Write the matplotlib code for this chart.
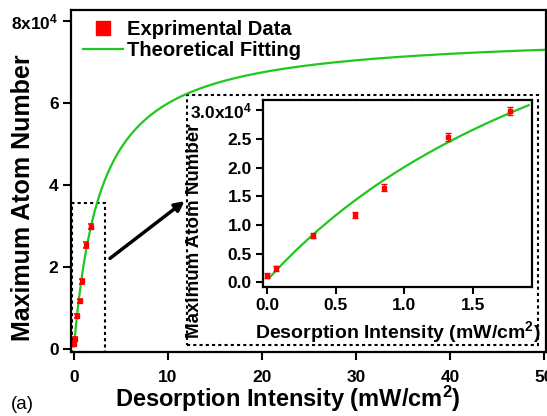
import matplotlib
matplotlib.use('Agg')
import matplotlib.pyplot as plt
import numpy as np
from matplotlib.lines import Line2D
from matplotlib.patches import Rectangle

plt.rcParams['font.family'] = ['Liberation Sans', 'DejaVu Sans']
plt.rcParams['font.weight'] = 'bold'
plt.rcParams['axes.labelweight'] = 'bold'
plt.rcParams['mathtext.fontset'] = 'custom'
plt.rcParams['mathtext.rm'] = 'Liberation Sans:bold'
plt.rcParams['mathtext.bf'] = 'Liberation Sans:bold'
plt.rcParams['mathtext.default'] = 'rm'

# measured points
intensity = [0.0, 0.061, 0.331, 0.640, 0.852, 1.322, 1.773]
atoms = [1160, 2440, 8140, 11690, 16510, 25350, 29880]
atoms_err = [400, 400, 450, 500, 550, 650, 650]

# theoretical fitting parameters (N = N_sat*I/(I+I_s) + N_0)
n_sat = 76800
i_sat = 2.9
n_0 = 400

main_xticks = [0, 10, 20, 30, 40, 50]
main_yticks = [0, 20000, 40000, 60000, 80000]
main_yticklabels = ['0', '2', '4', '6', '8x10$^4$']
inset_xticks = [0.0, 0.5, 1.0, 1.5]
inset_yticks = [0, 5000, 10000, 15000, 20000, 25000, 30000]
inset_yticklabels = ['0.0', '0.5', '1.0', '1.5', '2.0', '2.5', '3.0x10$^4$']

def fit(i):
    return n_sat * i / (i + i_sat) + n_0

red = '#ff0000'
green = '#1ec81e'

fig = plt.figure(figsize=(5.47, 4.16), dpi=100)
ax = fig.add_axes([0.130, 0.154, 0.868, 0.822])

I = np.linspace(0.01, 50, 600)
ax.plot(I, fit(I), color=green, lw=1.6)
ax.errorbar(intensity, atoms, yerr=atoms_err, fmt='s', ms=2.5, color=red,
            ecolor=red, elinewidth=1, capsize=2.5, capthick=1.2)

ax.set_xlim(-0.3, 50.2)
ax.set_ylim(-700, 82700)
ax.set_xticks(main_xticks)
ax.set_yticks(main_yticks)
ax.set_yticklabels(main_yticklabels)
ax.tick_params(direction='out', length=6, width=1.5, labelsize=12.5)
ax.tick_params(axis='x', pad=7)
ax.tick_params(axis='y', pad=3)
for s in ax.spines.values():
    s.set_linewidth(1.6)
ax.set_xlabel('Desorption Intensity (mW/cm$^2$)', fontsize=17)
ax.xaxis.set_label_coords(0.457, -0.094)
ax.set_ylabel('Maximum Atom Number', fontsize=18)
ax.yaxis.set_label_coords(-0.076, 0.45)

handles = [Line2D([], [], marker='s', ls='none', color=red, ms=10),
           Line2D([], [], color=green, lw=1.6)]
ax.legend(handles, ['Exprimental Data', 'Theoretical Fitting'], loc='upper left',
          frameon=False, fontsize=14.5, handlelength=2.0, handletextpad=0.2,
          labelspacing=0.1, borderaxespad=0.0, bbox_to_anchor=(0.008, 0.994))

# dotted zoom boxes
ax.add_patch(Rectangle((-0.25, -700), 3.55, 36300, fill=False, ls=(0, (1.5, 1.5)),
                       lw=1.5, color='black', clip_on=False))
ax.add_patch(Rectangle((12.0, 1000), 37.4, 61000, fill=False, ls=(0, (1.5, 1.5)),
                       lw=1.5, color='black', clip_on=False))
ax.annotate('', xy=(12.0, 36500), xytext=(3.6, 21700),
            arrowprops=dict(arrowstyle='-|>', color='black', lw=2.5,
                            mutation_scale=14))

fig.text(0.02, 0.018, '(a)', fontsize=13.5, fontweight='normal')

# inset
axin = fig.add_axes([0.481, 0.310, 0.492, 0.450])
Ii = np.linspace(0.015, 1.907, 300)
axin.plot(Ii, fit(Ii), color=green, lw=1.6)
axin.errorbar(intensity, atoms, yerr=atoms_err, fmt='s', ms=3, color=red,
              ecolor=red, elinewidth=1, capsize=2, capthick=1)
axin.set_xlim(-0.03, 1.933)
axin.set_ylim(-800, 31800)
axin.set_xticks(inset_xticks)
axin.set_xticklabels(['0.0', '0.5', '1.0', '1.5'])
axin.set_yticks(inset_yticks)
axin.set_yticklabels(inset_yticklabels)
axin.tick_params(direction='out', length=5, width=1.5, labelsize=12.5, pad=3)
for s in axin.spines.values():
    s.set_linewidth(1.6)
axin.set_xlabel('Desorption Intensity (mW/cm$^2$)', fontsize=14)
axin.xaxis.set_label_coords(0.50, -0.17)
axin.set_ylabel('Maximum Atom Number', fontsize=13.5)
axin.yaxis.set_label_coords(-0.225, 0.30)

fig.savefig('out.png', dpi=100)
